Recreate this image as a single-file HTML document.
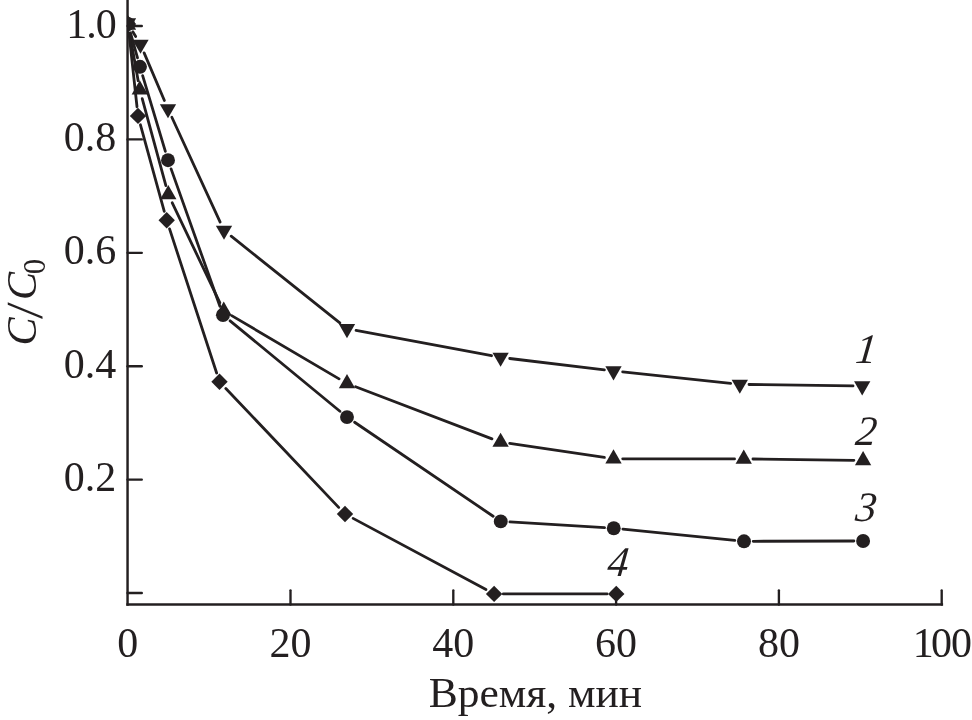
<!DOCTYPE html>
<html lang="ru"><head><meta charset="utf-8"><title>C/C0 — Время, мин</title>
<style>
html,body{margin:0;padding:0;background:#fff;}
body{width:972px;height:720px;overflow:hidden;}
svg{display:block;}
text{font-family:"Liberation Serif",serif;fill:#231f20;}
.t{font-size:42px;}
.i{font-size:42px;font-style:italic;}
</style></head><body>
<svg width="972" height="720" viewBox="0 0 972 720">
<rect width="972" height="720" fill="#fff"/>
<defs><clipPath id="cp"><rect x="127.6" y="0" width="60" height="60"/></clipPath></defs>

<g stroke="#231f20" stroke-width="2.45" fill="none" stroke-linecap="butt">
<line x1="127.55" y1="0" x2="127.55" y2="605.7"/>
<line x1="126.35" y1="604.5" x2="943.1" y2="604.5"/>
</g>
<g stroke="#231f20" stroke-width="2.35" fill="none" stroke-linecap="round">
<line x1="127.55" y1="26.00" x2="141.8" y2="26.00"/>
<line x1="127.55" y1="139.40" x2="141.8" y2="139.40"/>
<line x1="127.55" y1="252.80" x2="141.8" y2="252.80"/>
<line x1="127.55" y1="366.20" x2="141.8" y2="366.20"/>
<line x1="127.55" y1="479.60" x2="141.8" y2="479.60"/>
<line x1="127.55" y1="593.00" x2="141.8" y2="593.00"/>
<line x1="290.50" y1="590.3" x2="290.50" y2="604.5"/>
<line x1="453.30" y1="590.3" x2="453.30" y2="604.5"/>
<line x1="616.10" y1="590.3" x2="616.10" y2="604.5"/>
<line x1="778.90" y1="590.3" x2="778.90" y2="604.5"/>
<line x1="941.70" y1="590.3" x2="941.70" y2="604.5"/>
</g>
<text class="t" x="66.3 86.3 95.8" y="38.30">1.0</text>
<text class="t" x="116.3" y="150.80" text-anchor="end">0.8</text>
<text class="t" x="116.3" y="264.20" text-anchor="end">0.6</text>
<text class="t" x="116.3" y="377.60" text-anchor="end">0.4</text>
<text class="t" x="116.3" y="491.00" text-anchor="end">0.2</text>
<text class="t" x="912.8 931 951" y="656.8">100</text>
<text class="t" x="127.70" y="656.6" text-anchor="middle">0</text>
<text class="t" x="290.50" y="656.6" text-anchor="middle">20</text>
<text class="t" x="453.30" y="656.6" text-anchor="middle">40</text>
<text class="t" x="616.10" y="656.6" text-anchor="middle">60</text>
<text class="t" x="778.90" y="656.6" text-anchor="middle">80</text>
<text class="t" transform="translate(535.4,706.6) scale(1.036,1)" text-anchor="middle">Время, мин</text>
<g transform="translate(35.7,343.5) rotate(-90)"><text class="i" x="-1.9" y="0">C</text><text class="t" transform="translate(24.6,6.3) skewX(-4)" style="font-size:52px">/</text><text class="i" x="43.6" y="0">C</text><text class="t" x="69.2" y="9" style="font-size:31px">0</text></g>
<text class="i" transform="translate(865.1,363) skewX(-6)" text-anchor="middle">1</text>
<text class="i" transform="translate(865.1,445) skewX(-6)" text-anchor="middle">2</text>
<text class="i" transform="translate(864.9,520.6) skewX(-6)" text-anchor="middle">3</text>
<text class="i" transform="translate(617.1,575.8) skewX(-6)" text-anchor="middle">4</text>
<g stroke="#231f20" stroke-width="2.8" fill="none" stroke-linecap="round">
<line x1="132.81" y1="31.84" x2="135.69" y2="36.56"/>
<line x1="144.11" y1="52.86" x2="164.39" y2="100.44"/>
<line x1="171.85" y1="117.26" x2="220.15" y2="222.04"/>
<line x1="231.19" y1="236.14" x2="339.81" y2="322.96"/>
<line x1="356.04" y1="330.39" x2="491.56" y2="355.71"/>
<line x1="509.73" y1="358.50" x2="604.37" y2="369.90"/>
<line x1="622.65" y1="371.97" x2="730.65" y2="383.43"/>
<line x1="749.00" y1="384.52" x2="853.00" y2="385.88"/>
<line x1="129.63" y1="33.06" x2="138.17" y2="80.64"/>
<line x1="142.21" y1="98.58" x2="165.89" y2="185.62"/>
<line x1="172.25" y1="202.81" x2="219.80" y2="302.69"/>
<line x1="231.68" y1="315.66" x2="339.07" y2="378.84"/>
<line x1="355.60" y1="386.78" x2="492.00" y2="438.82"/>
<line x1="509.70" y1="443.45" x2="604.40" y2="457.45"/>
<line x1="622.70" y1="458.81" x2="734.55" y2="458.89"/>
<line x1="752.95" y1="459.02" x2="853.90" y2="460.28"/>
<line x1="130.48" y1="32.86" x2="137.52" y2="57.94"/>
<line x1="142.64" y1="75.61" x2="165.36" y2="151.39"/>
<line x1="171.08" y1="168.87" x2="219.92" y2="306.33"/>
<line x1="230.10" y1="320.85" x2="339.90" y2="411.25"/>
<line x1="354.61" y1="422.26" x2="493.14" y2="516.24"/>
<line x1="509.93" y1="521.96" x2="604.57" y2="527.69"/>
<line x1="622.90" y1="529.17" x2="734.85" y2="540.38"/>
<line x1="753.20" y1="541.28" x2="853.90" y2="541.02"/>
<line x1="129.00" y1="33.15" x2="137.00" y2="106.75"/>
<line x1="140.44" y1="124.77" x2="164.26" y2="211.33"/>
<line x1="169.56" y1="228.94" x2="216.64" y2="373.01"/>
<line x1="225.83" y1="388.42" x2="338.67" y2="507.38"/>
<line x1="353.11" y1="518.39" x2="485.99" y2="589.56"/>
<line x1="503.30" y1="593.90" x2="607.05" y2="593.90"/>
</g>
<g fill="#231f20" stroke="none">
<g clip-path="url(#cp)"><polygon points="119.80,24.00 128.00,15.80 136.20,24.00 128.00,32.20"/><circle cx="128.00" cy="24.00" r="6.95"/><polygon points="119.85,18.27 136.15,18.27 128.00,32.47"/><polygon points="119.85,29.73 136.15,29.73 128.00,15.53"/></g>
<polygon points="132.35,39.67 148.65,39.67 140.50,53.87"/>
<polygon points="159.85,104.17 176.15,104.17 168.00,118.37"/>
<polygon points="215.85,225.67 232.15,225.67 224.00,239.87"/>
<polygon points="338.85,323.97 355.15,323.97 347.00,338.17"/>
<polygon points="492.45,352.67 508.75,352.67 500.60,366.87"/>
<polygon points="605.35,366.27 621.65,366.27 613.50,380.47"/>
<polygon points="731.65,379.67 747.95,379.67 739.80,393.87"/>
<polygon points="854.05,381.27 870.35,381.27 862.20,395.47"/>
<polygon points="131.65,94.43 147.95,94.43 139.80,80.23"/>
<polygon points="160.15,199.23 176.45,199.23 168.30,185.03"/>
<polygon points="215.60,315.73 231.90,315.73 223.75,301.53"/>
<polygon points="338.85,388.23 355.15,388.23 347.00,374.03"/>
<polygon points="492.45,446.83 508.75,446.83 500.60,432.63"/>
<polygon points="605.35,463.53 621.65,463.53 613.50,449.33"/>
<polygon points="735.60,463.63 751.90,463.63 743.75,449.43"/>
<polygon points="854.95,465.13 871.25,465.13 863.10,450.93"/>
<circle cx="140.00" cy="66.80" r="6.95"/>
<circle cx="168.00" cy="160.20" r="6.95"/>
<circle cx="223.00" cy="315.00" r="6.95"/>
<circle cx="347.00" cy="417.10" r="6.95"/>
<circle cx="500.75" cy="521.40" r="6.95"/>
<circle cx="613.75" cy="528.25" r="6.95"/>
<circle cx="744.00" cy="541.30" r="6.95"/>
<circle cx="863.10" cy="541.00" r="6.95"/>
<polygon points="129.80,115.90 138.00,107.70 146.20,115.90 138.00,124.10"/>
<polygon points="158.50,220.20 166.70,212.00 174.90,220.20 166.70,228.40"/>
<polygon points="211.30,381.75 219.50,373.55 227.70,381.75 219.50,389.95"/>
<polygon points="336.80,514.05 345.00,505.85 353.20,514.05 345.00,522.25"/>
<polygon points="485.90,593.90 494.10,585.70 502.30,593.90 494.10,602.10"/>
<polygon points="608.05,593.90 616.25,585.70 624.45,593.90 616.25,602.10"/>
</g>
</svg></body></html>
